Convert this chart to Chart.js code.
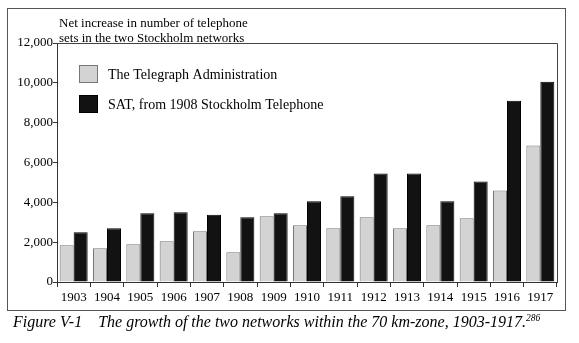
<!DOCTYPE html>
<html>
<head>
<meta charset="utf-8">
<script src="https://cdn.jsdelivr.net/npm/chart.js@4/dist/chart.umd.min.js"></script>
<style>
  html, body { margin: 0; padding: 0; background: #fff; }
  #wrap { position: relative; width: 579px; height: 343px; font-family: "Liberation Serif", "DejaVu Serif", serif; color: #000; }
  #frame { position: absolute; left: 7px; top: 8px; width: 559px; height: 303px; border: 1px solid #555; box-sizing: border-box; }
  #title { position: absolute; left: 59px; top: 16px; font-size: 13px; line-height: 14.5px; }
  #caption { position: absolute; left: 13px; top: 313px; font-size: 16px; font-style: italic; white-space: nowrap; }
  #caption sup { font-size: 9.5px; vertical-align: 6px; }
  canvas { position: absolute; left: 0; top: 0; }
</style>
</head>
<body>
<div id="wrap">
  <div id="frame"></div>
  <canvas id="chart" width="579" height="343"></canvas>
  <div id="title">Net increase in number of telephone<br>sets in the two Stockholm networks</div>
  <div id="caption">Figure V-1&nbsp;&nbsp;&nbsp; The growth of the two networks within the 70 km-zone, 1903-1917.<sup>286</sup></div>
</div>
<script>
// 年份與兩個網路的淨增加量
const years = ['1903','1904','1905','1906','1907','1908','1909','1910','1911','1912','1913','1914','1915','1916','1917'];
const telegraphAdm = [1850, 1700, 1900, 2050, 2550, 1500, 3300, 2850, 2700, 3250, 2700, 2850, 3200, 4600, 6850];
const satStockholm = [2500, 2700, 3450, 3500, 3380, 3250, 3450, 4050, 4300, 5450, 5450, 4050, 5050, 9100, 10050];
const yTicks = [0, 2000, 4000, 6000, 8000, 10000, 12000];

const FONT = '"Liberation Serif", "DejaVu Serif", serif';

// 圖內圖例 + 上/右框線
const boxPlugin = {
  id: 'boxLegend',
  afterDraw(chart) {
    const ctx = chart.ctx;
    const a = chart.chartArea;
    ctx.save();
    ctx.strokeStyle = '#444';
    ctx.lineWidth = 1;
    ctx.beginPath();
    ctx.moveTo(a.left, a.top + 0.5);
    ctx.lineTo(a.right + 0.5, a.top + 0.5);
    ctx.lineTo(a.right + 0.5, a.bottom);
    ctx.stroke();

    chart.data.datasets.forEach((ds, i) => {
      const x = 79, y = 65 + i * 30;
      ctx.fillStyle = ds.backgroundColor;
      ctx.fillRect(x, y, 19, 18);
      ctx.strokeStyle = ds.borderColor;
      ctx.strokeRect(x + 0.5, y + 0.5, 18, 17);
      ctx.fillStyle = '#000';
      ctx.font = '14px ' + FONT;
      ctx.textBaseline = 'middle';
      ctx.fillText(ds.label, 108, y + 10);
    });
    ctx.restore();
  }
};

new Chart(document.getElementById('chart'), {
  type: 'bar',
  data: {
    labels: years,
    datasets: [
      {
        label: 'The Telegraph Administration',
        data: telegraphAdm,
        backgroundColor: '#d3d3d3',
        borderColor: '#777',
        borderWidth: 1
      },
      {
        label: 'SAT, from 1908 Stockholm Telephone',
        data: satStockholm,
        backgroundColor: '#121212',
        borderColor: '#000',
        borderWidth: 1
      }
    ]
  },
  options: {
    responsive: false,
    animation: false,
    layout: { padding: { top: 43, right: 22, bottom: 0, left: 0 } },
    datasets: { bar: { categoryPercentage: 0.84, barPercentage: 1.0 } },
    plugins: { legend: { display: false }, tooltip: { enabled: false } },
    scales: {
      x: {
        offset: true,
        grid: { display: true, drawOnChartArea: false, offset: true, tickLength: 5, color: '#333' },
        border: { display: true, color: '#333', width: 1 },
        ticks: { color: '#000', font: { family: FONT, size: 13 }, padding: 3, maxRotation: 0, autoSkip: false },
        afterFit(scale) { scale.height = 61; }
      },
      y: {
        min: 0,
        max: 12000,
        afterBuildTicks(scale) { scale.ticks = yTicks.map(v => ({ value: v })); },
        grid: { display: true, drawOnChartArea: false, tickLength: 4, color: '#333' },
        border: { display: true, color: '#333', width: 1 },
        ticks: {
          color: '#000',
          font: { family: FONT, size: 13 },
          padding: 0,
          callback: v => v.toLocaleString('en-US')
        },
        afterFit(scale) { scale.width = 57; }
      }
    }
  },
  plugins: [boxPlugin]
});
</script>
</body>
</html>
